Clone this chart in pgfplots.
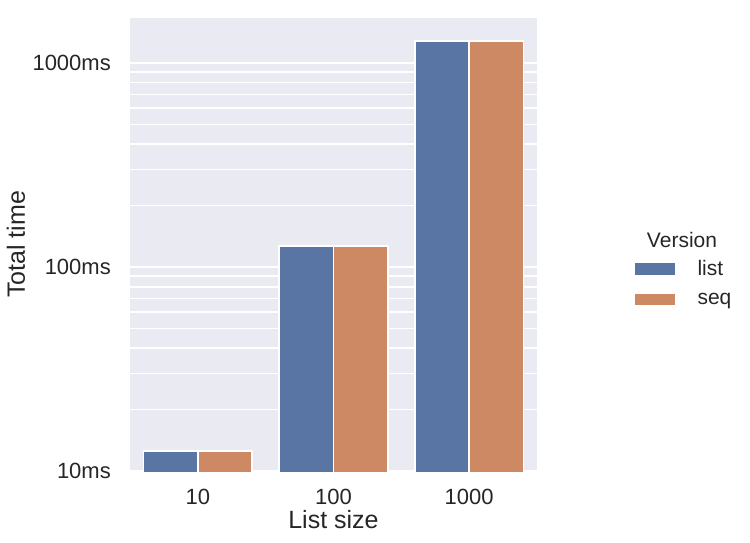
\documentclass[border=0pt]{standalone}
\usepackage{fontspec}
\setmainfont{Liberation Sans}
\usepackage{pgfplots}
\pgfplotsset{compat=1.18}
\definecolor{bgc}{HTML}{EAEAF2}
\definecolor{cblue}{RGB}{89,117,164}
\definecolor{corange}{RGB}{204,137,99}
\definecolor{txt}{HTML}{262626}
\begin{document}
\begin{tikzpicture}[x=1pt,y=1pt]
\useasboundingbox (0,0) rectangle (750,542);
\begin{axis}[
  at={(130pt,71pt)}, anchor=south west,
  width=407pt, height=453pt, scale only axis,
  ymode=log, ymin=10, ymax=1660,
  xmin=-0.5, xmax=2.5,
  axis background/.style={fill=bgc},
  axis line style={draw=none},
  major tick length=0pt, minor tick length=0pt,
  xtick={0,1,2}, xticklabels={10,100,1000},
  ytick={10,100,1000}, yticklabels={10ms,100ms,1000ms},
  minor ytick={20,30,40,50,60,70,80,90,200,300,400,500,600,700,800,900},
  ymajorgrids, yminorgrids,
  major grid style={white, line width=1.6pt},
  minor grid style={white, line width=1.6pt},
  xticklabel style={font=\fontsize{22}{26}\selectfont, text=txt, anchor=north, inner sep=0pt, yshift=-18pt},
  yticklabel style={font=\fontsize{22}{26}\selectfont, text=txt, anchor=east, inner sep=0pt, xshift=-19pt},
  xlabel={List size}, ylabel={Total time},
  xlabel style={font=\fontsize{25}{30}\selectfont, text=txt, at={(axis description cs:0.5,-0.108)}, anchor=center},
  ylabel style={font=\fontsize{25}{30}\selectfont, text=txt, at={(axis description cs:-0.28,0.5)}, anchor=center},
  legend image code/.code={\fill[#1] (0pt,-6.5pt) rectangle (42pt,6.5pt);},
  legend cell align=left,
  legend style={at={(rel axis cs:1.236,0.469)}, anchor=north west, draw=none, fill=none,
    inner sep=0pt, outer sep=0pt, row sep=12pt,
    font=\fontsize{21}{25}\selectfont, text=txt,
    /tikz/every odd column/.style={column sep=19pt}},
]
\addplot[ybar, bar width=0.4, bar shift=-0.2, fill=cblue, draw=white, line width=1.5pt]
  coordinates {(0,12.5) (1,126.7) (2,1282)};
\addlegendentry{list}
\addplot[ybar, bar width=0.4, bar shift=0.2, fill=corange, draw=white, line width=1.5pt]
  coordinates {(0,12.5) (1,126.7) (2,1282)};
\addlegendentry{seq}
\end{axis}
\node[font=\fontsize{21}{25}\selectfont, text=txt] at (682,302) {Version};
\end{tikzpicture}
\end{document}
